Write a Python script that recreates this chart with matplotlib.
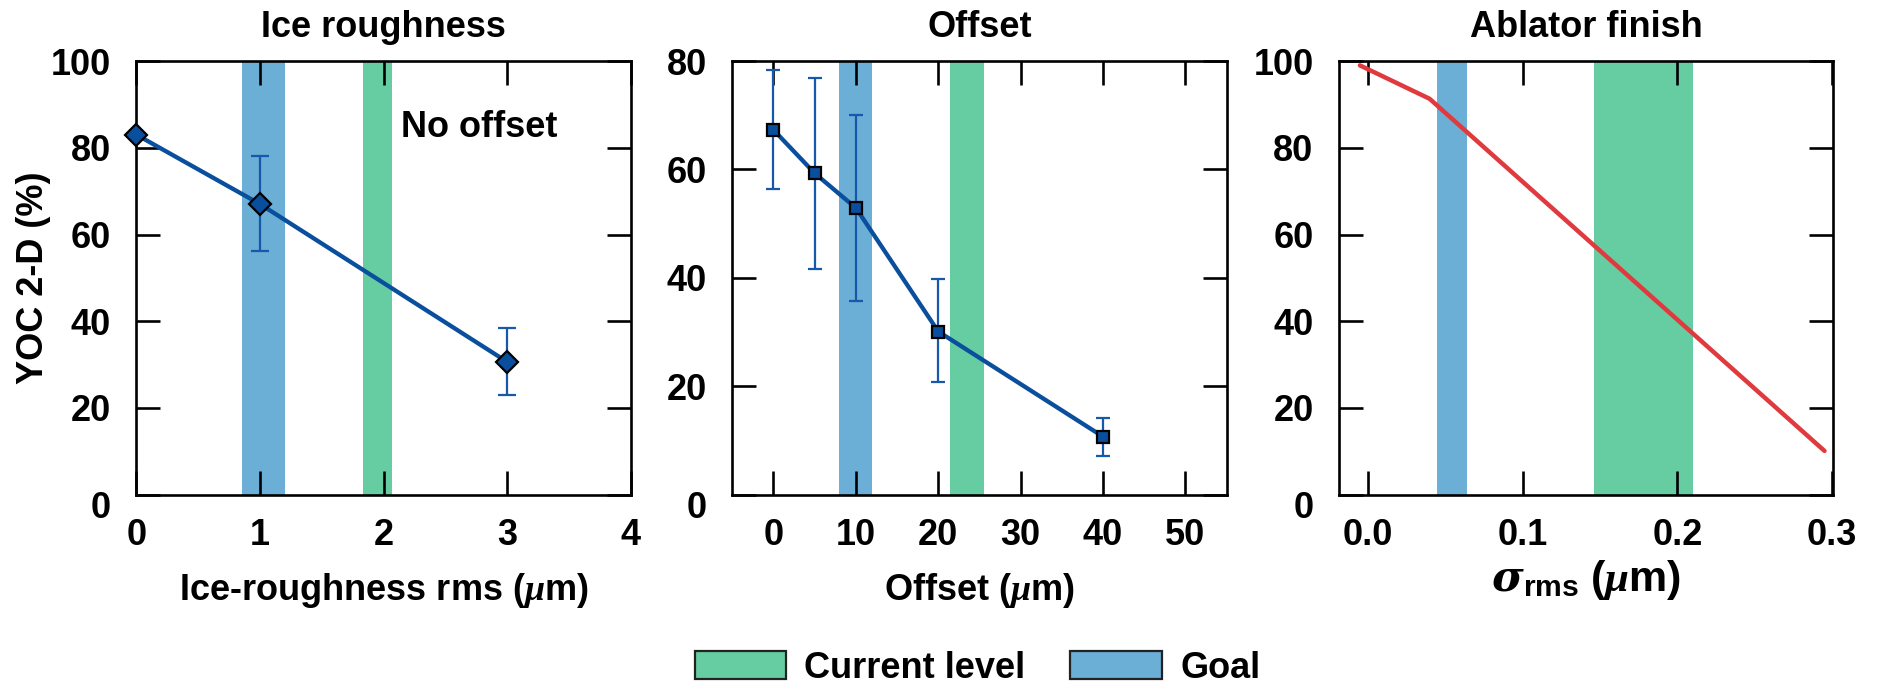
import matplotlib
matplotlib.use("Agg")
import matplotlib.pyplot as plt
from matplotlib.patches import Patch
from matplotlib.ticker import FormatStrFormatter
from matplotlib.transforms import ScaledTranslation
import numpy as np

# --- data -------------------------------------------------------------------
ice_rms = [0, 1, 3]
ice_yoc = [83.0, 67.0, 30.6]
ice_err_hi = [np.nan, 78.0, 38.4]
ice_err_lo = [np.nan, 56.2, 22.9]

offset_um = [0, 5, 10, 20, 40]
offset_yoc = [67.3, 59.3, 52.9, 30.1, 10.7]
offset_err_hi = [78.4, 76.9, 70.1, 39.8, 14.2]
offset_err_lo = [56.4, 41.6, 35.8, 20.7, 7.1]

finish_sigma = [-0.005, 0.040, 0.295]
finish_yoc = [99.0, 91.3, 10.1]

# shaded bands: (goal span, current-level span) per panel
ice_goal, ice_current = (0.85, 1.2), (1.83, 2.07)
offset_goal, offset_current = (8.0, 12.0), (21.4, 25.5)
finish_goal, finish_current = (0.0446, 0.0641), (0.146, 0.210)

GOAL = "#6baed6"
CURRENT = "#66cda2"
LINE = "#0a4f9d"
ERR = "#1659aa"
RED = "#e03a3e"
FS = 26

plt.rcParams.update({
    "font.family": ["Liberation Sans", "DejaVu Sans"],
    "font.weight": "bold",
    "axes.titleweight": "bold",
    "axes.labelweight": "bold",
    "mathtext.fontset": "custom",
    "mathtext.it": "Liberation Serif:italic",
    "mathtext.bf": "Liberation Sans:bold",
    "mathtext.rm": "Liberation Sans:bold",
    "mathtext.sf": "DejaVu Serif:italic",
    "axes.linewidth": 1.9,
})

fig = plt.figure(figsize=(18.78, 6.85), dpi=100)
B, H = 0.2778, 0.6331
ax1 = fig.add_axes([0.07268, B, 0.2633, H])
ax2 = fig.add_axes([0.38993, B, 0.26326, H])
ax3 = fig.add_axes([0.71299, B, 0.26305, H])


def style(ax, title, xlabel, label_size=FS, labelpad=13.5):
    ax.tick_params(direction="in", top=True, right=True, length=17,
                   width=1.9, labelsize=FS, pad=18.3)
    ax.tick_params(axis="x", pad=16.5)
    ax.set_title(title, fontsize=FS, pad=17)
    ax.set_xlabel(xlabel, fontsize=label_size, labelpad=labelpad)
    # the zero label on the y axis sits a little below its tick
    zero = ax.get_yticklabels()[0]
    zero.set_transform(zero.get_transform()
                       + ScaledTranslation(0, -0.10, fig.dpi_scale_trans))


def bands(ax, goal, current):
    ax.axvspan(*goal, color=GOAL, lw=0, zorder=0)
    ax.axvspan(*current, color=CURRENT, lw=0, zorder=0)


def err(y, lo, hi):
    y, lo, hi = map(np.asarray, (y, lo, hi))
    return np.vstack([y - lo, hi - y])


# --- Ice roughness ---------------------------------------------------------
bands(ax1, ice_goal, ice_current)
has_err = ~np.isnan(ice_err_hi)
ax1.errorbar(np.array(ice_rms)[has_err], np.array(ice_yoc)[has_err],
             yerr=err(ice_yoc, ice_err_lo, ice_err_hi)[:, has_err],
             fmt="none", ecolor=ERR, elinewidth=1.6, capsize=6.6, capthick=1.6,
             zorder=2)
ax1.plot(ice_rms, ice_yoc, color=LINE, lw=3.1, marker="D", ms=10.7,
         mfc=LINE, mec="black", mew=1.6, zorder=3, clip_on=False)
ax1.text(2.139, 82.5, "No offset", fontsize=FS, va="baseline")
ax1.set_xlim(0, 4)
ax1.set_ylim(0, 100)
ax1.set_xticks(range(0, 5))
ax1.set_yticks(range(0, 101, 20))
style(ax1, "Ice roughness", r"Ice-roughness rms ($\mu$m)")
ax1.set_ylabel("YOC 2-D (%)", fontsize=FS, labelpad=0)

# --- Offset ----------------------------------------------------------------
bands(ax2, offset_goal, offset_current)
ax2.errorbar(offset_um, offset_yoc,
             yerr=err(offset_yoc, offset_err_lo, offset_err_hi),
             fmt="none", ecolor=ERR, elinewidth=1.6, capsize=5.2, capthick=1.6,
             zorder=2)
ax2.plot(offset_um, offset_yoc, color=LINE, lw=3.1, marker="s", ms=8.9,
         mfc=LINE, mec="black", mew=1.6, zorder=3)
ax2.set_xlim(-5, 55)
ax2.set_ylim(0, 80)
ax2.set_xticks(range(0, 51, 10))
ax2.set_yticks(range(0, 81, 20))
style(ax2, "Offset", r"Offset ($\mu$m)")

# --- Ablator finish ----------------------------------------------------------
bands(ax3, finish_goal, finish_current)
ax3.plot(finish_sigma, finish_yoc, color=RED, lw=3.2,
         solid_capstyle="round", zorder=3)
ax3.set_xlim(-0.0185, 0.3005)
ax3.set_ylim(0, 100)
ax3.set_xticks([0.0, 0.1, 0.2, 0.3])
ax3.set_yticks(range(0, 101, 20))
ax3.xaxis.set_major_formatter(FormatStrFormatter("%.1f"))
style(ax3, "Ablator finish",
      r"$\mathsf{\sigma}_{\mathbf{rms}}\ \mathbf{(}\mu\mathbf{m)}$",
      label_size=31, labelpad=4)

# --- shared legend -----------------------------------------------------------
handles = [Patch(facecolor=CURRENT, edgecolor="#222222", lw=1.6,
                 label="Current level"),
           Patch(facecolor=GOAL, edgecolor="#222222", lw=1.6, label="Goal")]
fig.legend(handles=handles, loc="center", bbox_to_anchor=(0.5205, 0.0244),
           ncol=2, frameon=False, borderpad=0, borderaxespad=0,
           handlelength=2.54, handleheight=0.83, handletextpad=0.5,
           columnspacing=1.24, prop={"weight": "bold", "size": FS})

fig.savefig("out.png", dpi=100)
